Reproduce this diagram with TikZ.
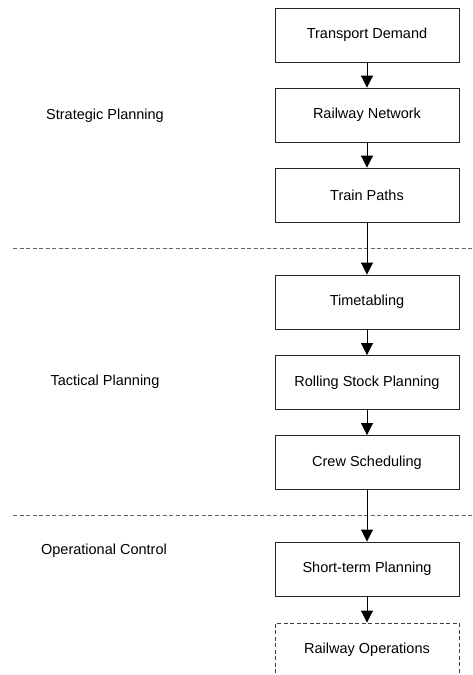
\documentclass[tikz,border=0pt]{standalone}
\usepackage{fontspec}
\setmainfont{Liberation Sans}
\usetikzlibrary{arrows.meta}
\begin{document}
\begin{tikzpicture}[x=1pt,y=-1pt,
  stepbox/.style={draw=black!85,line width=0.9pt,minimum width=184pt,minimum height=54pt,inner sep=0pt,font=\fontsize{14.5}{17}\selectfont},
  lvl/.style={font=\fontsize{14.5}{17}\selectfont},
  arr/.style={line width=0.9pt,-{Triangle[width=12pt,length=12pt]}},
  sep/.style={draw=black!60,line width=0.9pt,dash pattern=on 4pt off 2.5pt}]
\clip (0,0) rectangle (472,675);
\fill[white] (0,0) rectangle (472,675);
\node[stepbox] (td) at (367,35) {Transport Demand};
\node[stepbox] (rn) at (367,115) {Railway Network};
\node[stepbox] (tp) at (367,195) {Train Paths};
\node[stepbox] (tt) at (367,302) {Timetabling};
\node[stepbox] (rs) at (367,382.5) {Rolling Stock Planning};
\node[stepbox] (cs) at (367,462.5) {Crew Scheduling};
\node[stepbox] (st) at (367,569) {Short-term Planning};
\node[stepbox,draw=black!75,dash pattern=on 4pt off 2.5pt] (ro) at (367,650) {Railway Operations};
\node[lvl] (sp) at (105,116) {Strategic Planning};
\node[lvl] (tcp) at (105,382) {Tactical Planning};
\node[lvl] (oc) at (104,551) {Operational Control};
\coordinate (l1a) at (13,248);
\coordinate (l1b) at (472,248);
\coordinate (l2a) at (13,515);
\coordinate (l2b) at (472,515);
\draw[sep] (l1a) -- (l1b);
\draw[sep] (l2a) -- (l2b);
\draw[arr] (td) -- (rn);
\draw[arr] (rn) -- (tp);
\draw[arr] (tp) -- (tt);
\draw[arr] (tt) -- (rs);
\draw[arr] (rs) -- (cs);
\draw[arr] (cs) -- (st);
\draw[arr] (st) -- (ro);
\end{tikzpicture}
\end{document}
